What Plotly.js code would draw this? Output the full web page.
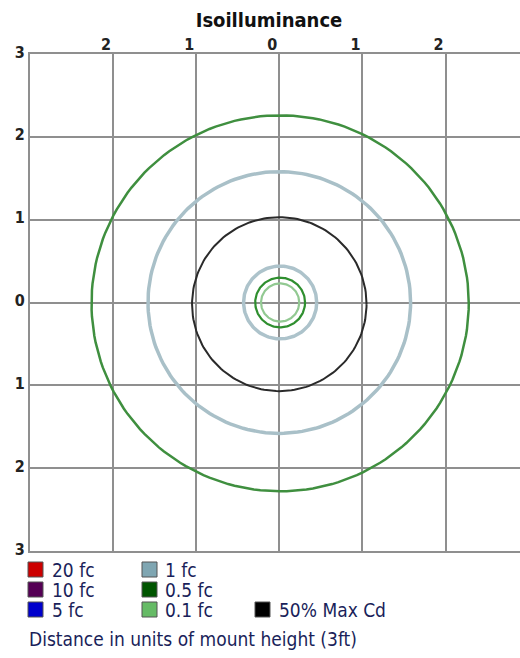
<!DOCTYPE html>
<html>
<head>
<meta charset="utf-8">
<script src="https://cdn.plot.ly/plotly-3.0.1.min.js"></script>
<style>html,body{margin:0;padding:0;background:#fff;}#chart{width:520px;height:658px;}</style>
</head>
<body>
<div id="chart"></div>
<script>
// ---- data ----
const ringNames = ['0.1 fc (outer)', '1 fc', '50% Max Cd', '1 fc (inner)', '0.5 fc', '0.1 fc'];
const ringRadii = [2.27, 1.58, 1.05, 0.44, 0.30, 0.23];
const ringCenterX = [0.01, 0.0, 0.0, 0.01, 0.01, 0.01];
const ringCenterY = [-0.01, 0.0, -0.02, 0.0, 0.0, 0.0];
const xTickVals = [-2, -1, 0, 1, 2];
const xTickText = ['2', '1', '0', '1', '2'];
const yTickVals = [-3, -2, -1, 0, 1, 2, 3];
const yTickText = ['3', '2', '1', '0', '1', '2', '3'];
const legendLabels = ['20 fc', '10 fc', '5 fc', '1 fc', '0.5 fc', '0.1 fc', '50% Max Cd'];
const titleText = 'Isoilluminance';
const footText = 'Distance in units of mount height (3ft)';

// ---- styles ----
const ringColors = ['#3f8f3f', '#a9c0c8', '#2a2a2a', '#adc3cb', '#2f8f2f', '#92c992'];
const ringWidths = [2.5, 3.5, 2, 3.5, 2.2, 2.2];
const legendColors = ['#cc0000', '#550055', '#0000cc', '#7fa6b2', '#005500', '#66bb66', '#000000'];
const legendCol = [0, 0, 0, 1, 1, 1, 2];
const legendRow = [0, 1, 2, 0, 1, 2, 2];
const FONT = 'DejaVu Sans Condensed, DejaVu Sans, sans-serif';
const gridColor = '#8f8f8f';

const traces = ringRadii.map((r, i) => {
  const xs = [], ys = [];
  for (let a = 0; a <= 360; a += 2) {
    const t = a * Math.PI / 180;
    xs.push(ringCenterX[i] + r * Math.cos(t));
    ys.push(ringCenterY[i] + r * Math.sin(t));
  }
  return {
    type: 'scatter', mode: 'lines', name: ringNames[i], x: xs, y: ys,
    line: {color: ringColors[i], width: ringWidths[i]},
    hoverinfo: 'skip', showlegend: false
  };
});

// pixel -> paper helpers (plot area: left 30, right 520, top 54, bottom 551)
const L = 30, R = 520, T = 54, B = 551;
const px2x = p => (p - L) / (R - L);
const py2y = p => (B - p) / (B - T);
const colSq = [28, 142, 255];
const colTx = [50, 163, 277];
const rowY = [569.5, 589.5, 609.5];

const shapes = legendLabels.map((lab, i) => ({
  type: 'rect', xref: 'paper', yref: 'paper', layer: 'above',
  x0: px2x(colSq[legendCol[i]]), x1: px2x(colSq[legendCol[i]] + 15),
  y0: py2y(rowY[legendRow[i]] + 7.5), y1: py2y(rowY[legendRow[i]] - 7.5),
  fillcolor: legendColors[i], line: {color: '#555', width: 1}
}));

const annotations = legendLabels.map((lab, i) => ({
  text: lab, xref: 'paper', yref: 'paper', showarrow: false,
  x: px2x(colTx[legendCol[i]]), xanchor: 'left',
  y: py2y(rowY[legendRow[i]]), yanchor: 'middle',
  font: {family: FONT, size: 19, color: '#1a1f5a'}
}));
annotations.push({
  text: footText, xref: 'paper', yref: 'paper', showarrow: false,
  x: px2x(27), xanchor: 'left', y: py2y(639), yanchor: 'middle',
  font: {family: FONT, size: 19, color: '#1a1f5a'}
});

const layout = {
  width: 520, height: 658,
  margin: {l: L, r: 520 - R, t: T, b: 658 - B, pad: 0},
  paper_bgcolor: '#ffffff', plot_bgcolor: '#ffffff',
  showlegend: false,
  title: {
    text: '<b>' + titleText + '</b>', xref: 'container', yref: 'container',
    x: 269 / 520, xanchor: 'center', y: 1 - 20 / 658, yanchor: 'middle',
    font: {family: FONT, size: 20, color: '#111'}
  },
  xaxis: {
    range: [-3, -3 + (R - L) / 83.1], side: 'top',
    tickvals: xTickVals, ticktext: xTickText, ticks: '',
    ticklabelshift: -7, ticklabelstandoff: -4,
    showgrid: true, gridcolor: gridColor, gridwidth: 2,
    zeroline: false, showline: true, mirror: true, linecolor: gridColor, linewidth: 2,
    tickfont: {family: FONT, size: 16, color: '#222', weight: 'bold'},
    fixedrange: true
  },
  yaxis: {
    range: [-3, 3],
    tickvals: yTickVals, ticktext: yTickText, ticks: '',
    ticklabelstandoff: 0, ticklabelshift: -2,
    showgrid: true, gridcolor: gridColor, gridwidth: 2,
    zeroline: false, showline: true, mirror: false, linecolor: gridColor, linewidth: 2,
    tickfont: {family: FONT, size: 16, color: '#222', weight: 'bold'},
    fixedrange: true
  },
  shapes: shapes,
  annotations: annotations
};

Plotly.newPlot('chart', traces, layout, {displayModeBar: false, staticPlot: true});
</script>
</body>
</html>
